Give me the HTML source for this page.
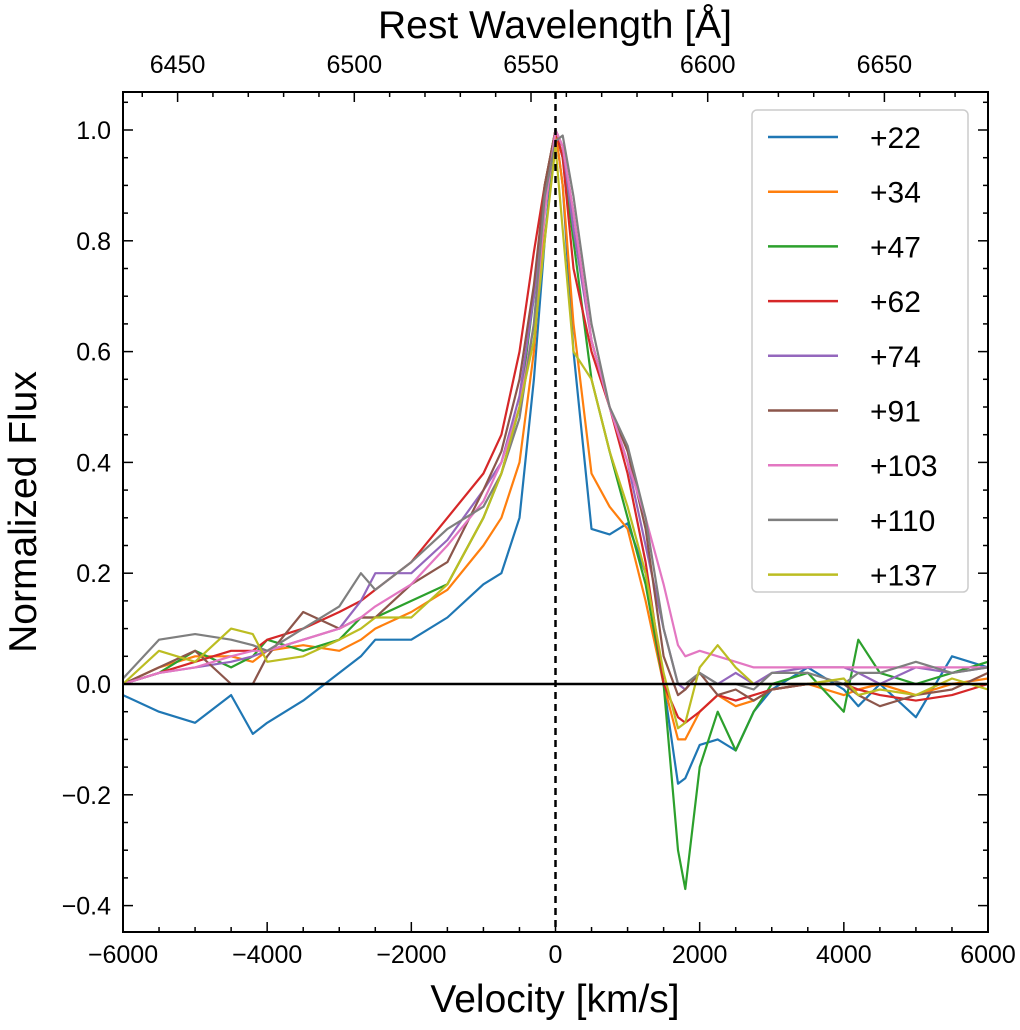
<!DOCTYPE html>
<html><head><meta charset="utf-8"><style>
body{margin:0;background:#fff}
svg text{font-family:"Liberation Sans",sans-serif}
</style></head><body>
<svg id="chart" width="1020" height="1025" viewBox="0 0 1020 1025">
<g id="ticks"></g>
<g id="lines"></g>
<line x1="123" y1="684" x2="988" y2="684" stroke="#000" stroke-width="2.5"/>
<line x1="555.5" y1="92" x2="555.5" y2="932" stroke="#000" stroke-width="2.5" stroke-dasharray="7,5"/>
<rect x="123" y="92" width="865" height="840" fill="none" stroke="#000" stroke-width="2"/>
<text x="555" y="1012" font-size="39" text-anchor="middle">Velocity [km/s]</text>
<text x="555" y="38" font-size="39" text-anchor="middle">Rest Wavelength [Å]</text>
<text transform="translate(36,512) rotate(-90)" font-size="39" text-anchor="middle">Normalized Flux</text>
<g id="legend">
<rect x="752" y="110" width="216" height="482" rx="5" fill="#fff" stroke="#ccc" stroke-width="1.5"/>
</g>
</svg>
<script>
const velocities=[-6000,-5500,-5000,-4500,-4200,-4000,-3500,-3000,-2700,-2500,-2000,-1500,-1000,-750,-500,-300,-150,0,100,250,500,750,1000,1250,1500,1700,1800,2000,2250,2500,2750,3000,3500,4000,4200,4500,5000,5500,6000];
const seriesLabels=["+22","+34","+47","+62","+74","+91","+103","+110","+137"];
const seriesColors=["#1f77b4","#ff7f0e","#2ca02c","#d62728","#9467bd","#8c564b","#e377c2","#7f7f7f","#bcbd22"];
const s22=[-0.02,-0.05,-0.07,-0.02,-0.09,-0.07,-0.03,0.02,0.05,0.08,0.08,0.12,0.18,0.2,0.3,0.55,0.8,1.0,0.9,0.6,0.28,0.27,0.29,0.2,0.0,-0.18,-0.17,-0.11,-0.1,-0.12,-0.05,-0.01,0.03,-0.01,-0.04,0.0,-0.06,0.05,0.03];
const s34=[0.0,0.03,0.05,0.05,0.04,0.06,0.07,0.06,0.08,0.1,0.13,0.17,0.25,0.3,0.4,0.6,0.85,1.0,0.9,0.65,0.38,0.32,0.28,0.15,0.0,-0.1,-0.1,-0.05,-0.02,-0.04,-0.03,-0.01,0.0,-0.02,-0.01,0.0,-0.02,0.0,0.01];
const s47=[0.0,0.02,0.06,0.03,0.05,0.08,0.06,0.08,0.12,0.12,0.15,0.18,0.3,0.38,0.5,0.7,0.9,1.0,0.95,0.8,0.55,0.42,0.3,0.18,0.0,-0.3,-0.37,-0.15,-0.05,-0.12,-0.05,0.0,0.02,-0.05,0.08,0.02,0.0,0.02,0.04];
const s62=[0.0,0.02,0.04,0.06,0.06,0.08,0.1,0.13,0.15,0.17,0.22,0.3,0.38,0.45,0.6,0.78,0.9,1.0,0.95,0.75,0.6,0.5,0.38,0.22,0.0,-0.06,-0.07,-0.05,-0.02,-0.03,-0.02,-0.01,0.0,0.0,-0.01,-0.02,-0.03,-0.02,0.0];
const s74=[0.0,0.02,0.03,0.04,0.05,0.06,0.08,0.1,0.15,0.2,0.2,0.26,0.35,0.4,0.52,0.7,0.88,1.0,0.97,0.82,0.62,0.5,0.4,0.25,0.1,0.0,-0.01,0.02,0.0,0.02,0.0,0.02,0.03,0.03,0.02,0.0,0.03,0.02,0.03];
const s91=[0.0,0.03,0.06,0.0,0.0,0.05,0.13,0.1,0.12,0.12,0.18,0.22,0.35,0.42,0.55,0.72,0.9,1.0,0.97,0.85,0.62,0.5,0.42,0.28,0.05,-0.02,-0.01,0.02,-0.02,-0.01,-0.03,-0.01,0.0,0.0,-0.02,-0.04,-0.02,-0.01,0.02];
const s103=[0.0,0.02,0.03,0.05,0.06,0.06,0.08,0.1,0.12,0.14,0.18,0.25,0.33,0.4,0.5,0.65,0.85,1.0,0.97,0.85,0.62,0.5,0.4,0.3,0.18,0.07,0.05,0.06,0.05,0.04,0.03,0.03,0.03,0.03,0.03,0.03,0.03,0.03,0.03];
const s110=[0.01,0.08,0.09,0.08,0.07,0.06,0.1,0.14,0.2,0.17,0.22,0.28,0.32,0.38,0.48,0.65,0.88,0.98,0.99,0.88,0.65,0.5,0.43,0.3,0.1,0.0,0.0,0.02,0.0,0.0,-0.01,0.02,0.02,0.0,0.02,0.02,0.04,0.02,0.03];
const s137=[0.0,0.06,0.04,0.1,0.09,0.04,0.05,0.08,0.1,0.12,0.12,0.18,0.3,0.38,0.5,0.62,0.8,0.97,0.82,0.6,0.55,0.42,0.32,0.2,0.02,-0.08,-0.07,0.03,0.07,0.03,0.0,0.0,0.0,0.01,-0.02,-0.01,-0.02,0.01,-0.01];
const allSeries=[s22,s34,s47,s62,s74,s91,s103,s110,s137];
const xTicks=[-6000,-4000,-2000,0,2000,4000,6000];
const yTicks=[-0.4,-0.2,0.0,0.2,0.4,0.6,0.8,1.0];
const topTicks=[6450,6500,6550,6600,6650];

const NS="http://www.w3.org/2000/svg";
const X0=123,X1=988,Y0=92,Y1=932;
function xs(v){return X0+(v+6000)/12000*(X1-X0);}
function ys(f){return 684-f*554;}
function wl(w){return 531+(w-6550)*176.7/50;}
function mk(tag,attrs,parent){const e=document.createElementNS(NS,tag);for(const k in attrs)e.setAttribute(k,attrs[k]);parent.appendChild(e);return e;}
const tg=document.getElementById('ticks');
function tick(x1,y1,x2,y2){const l=mk('line',{x1,y1,x2,y2,stroke:'#000','stroke-width':1.5},tg);

}
for(let v=-6000;v<=6000;v+=500){const x=xs(v),L=(v%2000===0)?10:5;tick(x,Y1,x,Y1-L);}
xTicks.forEach(v=>{const t=mk('text',{x:xs(v),y:963,'font-size':25,'text-anchor':'middle'},tg);t.textContent=(v<0?'\u2212'+(-v):v);

});
for(let i=-9;i<=21;i++){const f=i*0.05,y=ys(f);if(y<Y0||y>Y1)continue;const L=(i%4===0)?10:5;tick(X0,y,X0+L,y);tick(X1,y,X1-L,y);}
yTicks.forEach(f=>{const t=mk('text',{x:111,y:ys(f)+9,'font-size':25,'text-anchor':'end'},tg);t.textContent=(f<0?'\u2212':'')+Math.abs(f).toFixed(1);

});
for(let w=6420;w<=6700;w+=10){const x=wl(w);if(x<X0||x>X1)continue;const L=(w%50===0)?10:5;tick(x,Y0,x,Y0+L);}
topTicks.forEach(w=>{const t=mk('text',{x:wl(w),y:73,'font-size':25,'text-anchor':'middle'},tg);t.textContent=w;

});
const lg=document.getElementById('lines');
allSeries.forEach((s,i)=>{const d=s.map((f,j)=>(j?'L':'M')+xs(velocities[j]).toFixed(1)+','+ys(f).toFixed(1)).join(' ');
const p=mk('path',{d,fill:'none',stroke:seriesColors[i],'stroke-width':2.2,'stroke-linejoin':'round'},lg);

});
const leg=document.getElementById('legend');
seriesLabels.forEach((lab,i)=>{const y=137+i*54.7;
const g=mk('g',{},leg);


mk('line',{x1:768,y1:y,x2:838,y2:y,stroke:seriesColors[i],'stroke-width':2.5},g);
const t=mk('text',{x:870,y:y+11,'font-size':30},g);t.textContent=lab;});
</script>
</body></html>
